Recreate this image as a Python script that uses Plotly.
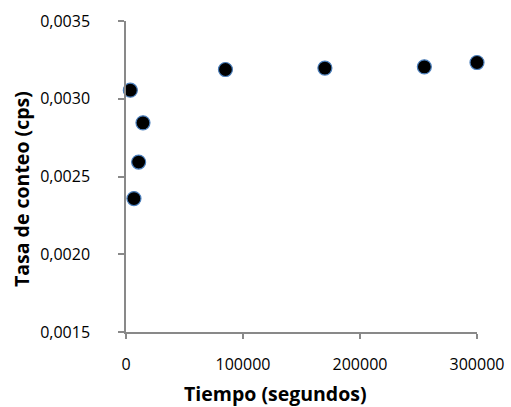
import plotly.graph_objects as go

tiempo = [3700, 6800, 10800, 14500, 85000, 170000, 255000, 300000]
tasa = [0.003055, 0.002358, 0.002593, 0.002845, 0.003188, 0.003197, 0.003205, 0.003233]

x_ticks = [0, 100000, 200000, 300000]
y_ticks = [0.0015, 0.0020, 0.0025, 0.0030, 0.0035]

x_title = "Tiempo (segundos)"
y_title = "Tasa de conteo (cps)"

FONT = "Open Sans"
AXC = "#898989"

fig = go.Figure()
fig.add_trace(go.Scatter(
    x=tiempo, y=tasa, mode="markers",
    marker=dict(size=14, color="black", line=dict(color="#4a7ebb", width=1.2)),
    cliponaxis=False, showlegend=False,
))

fig.update_layout(
    width=511, height=407,
    margin=dict(l=126, r=34, t=21, b=75),
    paper_bgcolor="white", plot_bgcolor="white",
    separators=",.",
    font=dict(family=FONT, size=16, color="black"),
    xaxis=dict(
        range=[0, 300000], tickvals=x_ticks, tickformat="d",
        showgrid=False, zeroline=False, automargin=False,
        showline=True, linecolor=AXC, linewidth=1.5,
        ticks="outside", tickcolor=AXC, ticklen=5, tickwidth=1.5,
        ticklabelstandoff=12,
    ),
    yaxis=dict(
        range=[0.0015, 0.0035], tickvals=y_ticks, tickformat=".4f",
        showgrid=False, zeroline=False, automargin=False,
        showline=True, linecolor=AXC, linewidth=1.5,
        ticks="outside", tickcolor=AXC, ticklen=6, tickwidth=1.5,
        ticklabelstandoff=25,
    ),
    annotations=[
        dict(text="<b>" + x_title + "</b>", xref="paper", yref="paper",
             x=0.427, y=-0.198, xanchor="center", yanchor="middle",
             showarrow=False, font=dict(size=19.5)),
        dict(text="<b>" + y_title + "</b>", xref="paper", yref="paper",
             x=-0.296, y=0.46, xanchor="center", yanchor="middle",
             textangle=-90, showarrow=False, font=dict(size=19.5)),
    ],
)

fig.write_html("out.html", config={"displayModeBar": False},
               post_script="document.body.style.margin='0';")
